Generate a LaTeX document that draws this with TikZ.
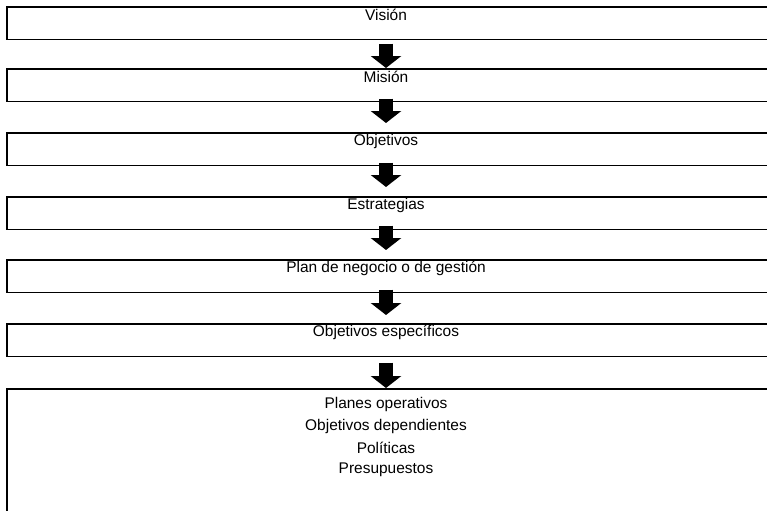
\documentclass[tikz,border=0pt]{standalone}
\usepackage{fontspec}
\setmainfont{Liberation Sans}
\usepackage{tikz}
\usetikzlibrary{arrows.meta,positioning,calc}

\tikzset{
  stagebox/.style={anchor=north west,minimum width=19cm,minimum height=0.8cm,inner sep=0pt},
  openside/.style={line width=0.9pt},
  stagetext/.style={inner sep=1pt,font=\fontsize{11}{13}\selectfont},
  blockarrow/.style={line width=0.35cm,-{Triangle[width=0.75cm,length=0.3cm]}}
}

\begin{document}
\begin{tikzpicture}
\useasboundingbox (0,0) rectangle (19.175,-12.75);
% boxes, open to the right
\node[stagebox] (b1) at (0.175,-0.175) {};
\node[stagebox] (b2) at (0.175,-1.725) {};
\node[stagebox] (b3) at (0.175,-3.325) {};
\node[stagebox] (b4) at (0.175,-4.925) {};
\node[stagebox] (b5) at (0.175,-6.5) {};
\node[stagebox] (b6) at (0.175,-8.1) {};
\node[stagebox,minimum height=3.025cm] (b7) at (0.175,-9.725) {};
\foreach \b in {b1,b2,b3,b4,b5,b6}
  \draw[openside] (\b.north east) -- (\b.north west) -- (\b.south west) -- (\b.south east);
\draw[openside] (b7.north east) -- (b7.north west) -- (b7.south west);
% labels
\node[stagetext] (t1) at (9.65,-0.38) {Visión};
\node[stagetext] (t2) at (9.65,-1.93) {Misión};
\node[stagetext] (t3) at (9.65,-3.53) {Objetivos};
\node[stagetext] (t4) at (9.65,-5.13) {Estrategias};
\node[stagetext] (t5) at (9.65,-6.7) {Plan de negocio o de gestión};
\node[stagetext] (t6) at (9.65,-8.3) {Objetivos específicos};
\node[stagetext] (t7) at (9.65,-10.1) {Planes operativos};
\node[stagetext] (t8) at (9.65,-10.65) {Objetivos dependientes};
\node[stagetext] (t9) at (9.65,-11.2) {Políticas};
\node[stagetext] (t10) at (9.65,-11.75) {Presupuestos};
% arrows
\draw[blockarrow,shorten <=0.1cm,shorten >=0.025cm] (t1 |- b1.south) -- (t1 |- b2.north);
\draw[blockarrow,shorten <=-0.075cm,shorten >=0.25cm] (t2 |- b2.south) -- (t2 |- b3.north);
\draw[blockarrow,shorten <=-0.075cm,shorten >=0.25cm] (t3 |- b3.south) -- (t3 |- b4.north);
\draw[blockarrow,shorten <=-0.1cm,shorten >=0.25cm] (t4 |- b4.south) -- (t4 |- b5.north);
\draw[blockarrow,shorten <=-0.075cm,shorten >=0.225cm] (t5 |- b5.south) -- (t5 |- b6.north);
\draw[blockarrow,shorten <=0.15cm,shorten >=0.025cm] (t6 |- b6.south) -- (t6 |- b7.north);
\end{tikzpicture}
\end{document}
